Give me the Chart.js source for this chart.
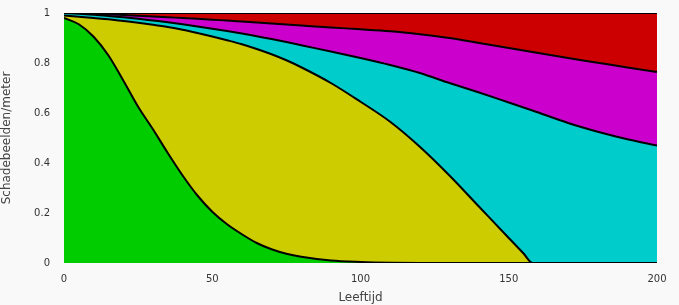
<!DOCTYPE html>
<html>
<head>
<meta charset="utf-8">
<script src="https://cdn.jsdelivr.net/npm/chart.js@4"></script>
<style>
  html, body { margin: 0; padding: 0; background: #f9f9f9; }
  #wrap { width: 679px; height: 305px; }
</style>
</head>
<body>
<div id="wrap"><canvas id="chart" width="679" height="305"></canvas></div>
<script>
// ages (x) shared by all series
const ages = [0, 5, 10, 15, 20, 25, 30, 35, 40, 45, 50, 55, 60, 65, 70, 75, 80, 90, 100, 110, 120, 130, 140, 150, 155, 158, 170, 180, 190, 200];

// cumulative fractions (bottom to top)
const greenTop = [0.98, 0.955, 0.905, 0.83, 0.73, 0.625, 0.535, 0.44, 0.35, 0.27, 0.205, 0.155, 0.115, 0.08, 0.055, 0.037, 0.025, 0.01, 0.004, 0.001, 0, 0, 0, 0, 0, 0, 0, 0, 0, 0];
const yellowTop = [0.99, 0.985, 0.98, 0.975, 0.968, 0.961, 0.953, 0.944, 0.933, 0.92, 0.906, 0.891, 0.875, 0.856, 0.835, 0.811, 0.783, 0.72, 0.645, 0.565, 0.465, 0.35, 0.225, 0.1, 0.038, 0, 0, 0, 0, 0];
const cyanTop = [1, 0.997, 0.993, 0.988, 0.983, 0.977, 0.97, 0.963, 0.955, 0.946, 0.937, 0.928, 0.918, 0.907, 0.896, 0.884, 0.871, 0.846, 0.82, 0.792, 0.76, 0.72, 0.682, 0.642, 0.622, 0.61, 0.56, 0.525, 0.495, 0.47];
const magentaTop = [1, 0.999, 0.997, 0.995, 0.992, 0.989, 0.986, 0.983, 0.98, 0.977, 0.973, 0.97, 0.966, 0.962, 0.958, 0.954, 0.95, 0.942, 0.935, 0.927, 0.915, 0.9, 0.88, 0.86, 0.85, 0.844, 0.82, 0.801, 0.782, 0.764];
const redTop = [1, 1, 1, 1, 1, 1, 1, 1, 1, 1, 1, 1, 1, 1, 1, 1, 1, 1, 1, 1, 1, 1, 1, 1, 1, 1, 1, 1, 1, 1];

const xTicks = [0, 50, 100, 150, 200];
const yTicks = [0, 0.2, 0.4, 0.6, 0.8, 1];

function pts(vals) {
  return ages.map((a, i) => ({ x: a, y: vals[i] }));
}

function band(vals, color, fill) {
  return {
    data: pts(vals),
    backgroundColor: color,
    borderColor: '#000',
    borderWidth: 2,
    pointRadius: 0,
    fill: fill,
    cubicInterpolationMode: 'monotone'
  };
}

const ctx = document.getElementById('chart').getContext('2d');
new Chart(ctx, {
  type: 'line',
  data: {
    datasets: [
      band(greenTop, '#00cc00', 'origin'),
      band(yellowTop, '#cccc00', '-1'),
      band(cyanTop, '#00cccc', '-1'),
      band(magentaTop, '#cc00cc', '-1'),
      band(redTop, '#cc0000', '-1')
    ]
  },
  options: {
    responsive: false,
    animation: false,
    layout: { padding: { top: 13, right: 22, left: 0, bottom: 0 } },
    plugins: { legend: { display: false }, tooltip: { enabled: false } },
    scales: {
      x: {
        type: 'linear',
        min: 0,
        max: 200,
        grid: { display: false },
        border: { display: false },
        afterBuildTicks: s => { s.ticks = xTicks.map(v => ({ value: v })); },
        ticks: { color: '#333', font: { family: 'DejaVu Sans', size: 10 }, padding: 2, maxRotation: 0 },
        title: { display: true, text: 'Leeftijd', color: '#444', font: { family: 'DejaVu Sans', size: 12 }, padding: { top: 0, bottom: 0 } },
        afterFit: s => { s.height = 42; }
      },
      y: {
        min: 0,
        max: 1,
        grid: { display: false },
        border: { display: false },
        afterBuildTicks: s => { s.ticks = yTicks.map(v => ({ value: v })); },
        ticks: {
          color: '#333',
          font: { family: 'DejaVu Sans', size: 10 },
          padding: 6,
          callback: v => (v === 0 || v === 1) ? String(v) : v.toFixed(1)
        },
        title: { display: true, text: 'Schadebeelden/meter', color: '#444', font: { family: 'DejaVu Sans', size: 12 }, padding: { top: 0, bottom: 4 } },
        afterFit: s => { s.width = 64; }
      }
    }
  }
});
</script>
</body>
</html>
